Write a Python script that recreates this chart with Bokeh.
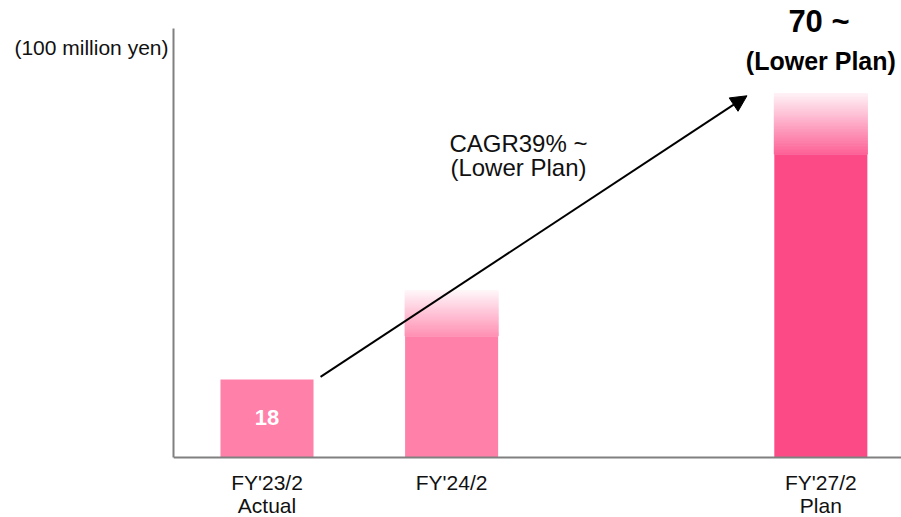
from bokeh.plotting import figure
from bokeh.models import Label, Arrow, NormalHead, FixedTicker, Range1d, Span
from bokeh.core.properties import value
from bokeh.embed import file_html
from bokeh.resources import INLINE

# Sales (100 million yen) by fiscal year
periods = ["FY'23/2\nActual", "FY'24/2", "FY'27/2\nPlan"]
period_pos = [0, 1, 3]            # FY'25 and FY'26 are left as empty slots
base_values = [18, 28, 70]        # solid part of each bar
upside_values = [18, 38.5, 84]    # top of the faded upside band
bar_colors = ["#FF80A9", "#FF80A9", "#FC4A87"]
value_labels = ["18", None, None]
unit_label = "(100 million yen)"

FONT = "Liberation Sans"
BAR_W = 0.504
Y_TOP = 99                        # top of the value axis line


def mix_white(hex_color, t):
    h = hex_color.lstrip("#")
    r, g, b = (int(h[i:i + 2], 16) for i in (0, 2, 4))
    r = round(r + (255 - r) * t)
    g = round(g + (255 - g) * t)
    b = round(b + (255 - b) * t)
    return "#%02x%02x%02x" % (r, g, b)


p = figure(width=901, height=517, output_backend="svg", toolbar_location=None,
           x_range=Range1d(-0.5065, 3.437), y_range=Range1d(-13.85, 105.5),
           min_border_left=173, min_border_right=0, min_border_top=0,
           min_border_bottom=0)
p.outline_line_color = None
p.grid.visible = False
p.background_fill_color = "white"
p.border_fill_color = "white"
p.xaxis.visible = False

# solid bars
p.quad(left=[x - BAR_W / 2 for x in period_pos],
       right=[x + BAR_W / 2 for x in period_pos],
       bottom=0, top=base_values, fill_color=bar_colors, line_color=None)

# faded upside band drawn as thin slices fading towards white
N = 40
l, r, b, t, c = [], [], [], [], []
for x, lo, hi, col in zip(period_pos, base_values, upside_values, bar_colors):
    if hi <= lo:
        continue
    step = (hi - lo) / N
    for i in range(N):
        l.append(x - BAR_W / 2)
        r.append(x + BAR_W / 2)
        b.append(lo + step * i)
        t.append(lo + step * (i + 1))
        c.append(mix_white(col, 0.12 + 0.8 * (i + 0.5) / N))
p.quad(left=l, right=r, bottom=b, top=t, fill_color=c, line_color=c,
       line_width=1)

# baseline
p.add_layout(Span(location=0, dimension="width", line_color="#808080",
                  line_width=2))

# category labels under the baseline
p.text(x=period_pos, y=-3.0, text=periods, text_align="center",
       text_baseline="top", text_font=value(FONT), text_font_size="21px",
       text_color="#111111", text_line_height=1.02)

# value labels inside bars
for x, v, txt in zip(period_pos, base_values, value_labels):
    if txt:
        p.add_layout(Label(x=x, y=v / 2 + 0.2, text=txt, text_align="center",
                           text_baseline="middle", text_color="white",
                           text_font=FONT, text_font_size="22px",
                           text_font_style="bold"))

# growth arrow
p.add_layout(Arrow(end=NormalHead(size=16, fill_color="black", line_color="black"),
                   x_start=period_pos[0] + 0.29, y_start=base_values[0] + 0.6,
                   x_end=period_pos[2] - 0.4, y_end=upside_values[2] - 0.5,
                   line_color="black", line_width=2))

p.add_layout(Label(x=1.362, y=72.4, text="CAGR39% ~", text_align="center",
                   text_baseline="middle", text_font=FONT, text_font_size="24px",
                   text_color="#111111"))
p.add_layout(Label(x=1.362, y=67.0, text="(Lower Plan)", text_align="center",
                   text_baseline="middle", text_font=FONT, text_font_size="24px",
                   text_color="#111111"))

p.add_layout(Label(x=period_pos[2] - 0.01, y=100.6, text="70 ~", text_align="center",
                   text_baseline="middle", text_font=FONT, text_font_size="31px",
                   text_font_style="bold", text_color="black"))
p.add_layout(Label(x=period_pos[2], y=91.6, text="(Lower Plan)", text_align="center",
                   text_baseline="middle", text_font=FONT, text_font_size="25px",
                   text_font_style="bold", text_color="black"))

# value axis: just the line, with the unit shown as its only label
ya = p.yaxis[0]
unit_tick = 94.6
ya.ticker = FixedTicker(ticks=[unit_tick])
ya.major_label_overrides = {unit_tick: unit_label}
ya.bounds = (0, Y_TOP)
ya.axis_line_color = "#808080"
ya.axis_line_width = 2
ya.major_tick_line_color = None
ya.minor_tick_line_color = None
ya.major_tick_out = 0
ya.major_tick_in = 0
ya.major_label_standoff = 5
ya.major_label_text_font = FONT
ya.major_label_text_font_size = "21px"
ya.major_label_text_color = "#111111"

open("out.html", "w").write(file_html(p, INLINE))
